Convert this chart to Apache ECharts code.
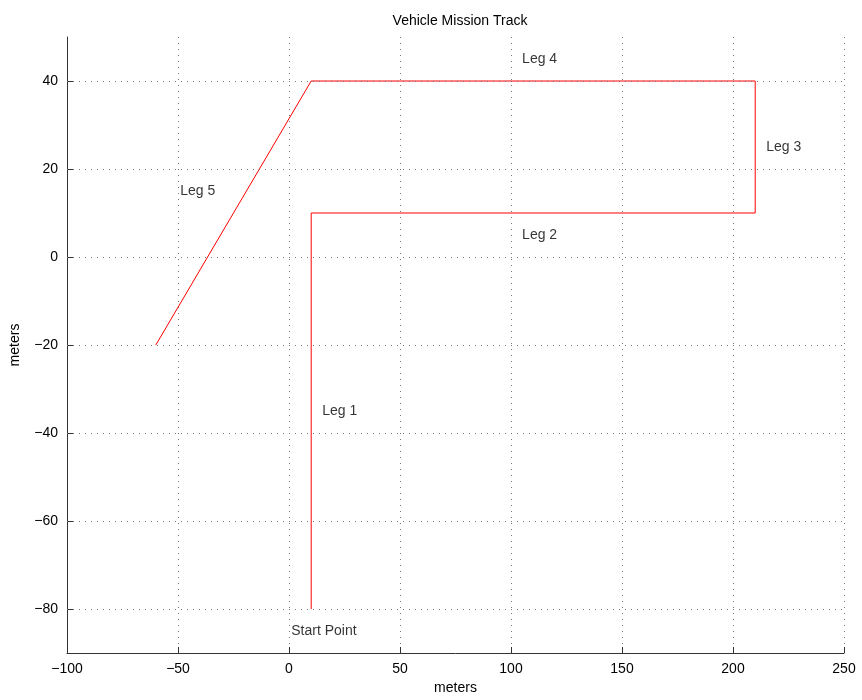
<!DOCTYPE html>
<html><head><meta charset="utf-8">
<script src="https://cdn.jsdelivr.net/npm/echarts@6/dist/echarts.min.js"></script>
<style>html,body{margin:0;padding:0;background:#fff}#c{width:862px;height:700px}</style>
</head><body><div id="c"></div>
<script>
const trackX = [10, 10, 210, 210, 10, -60];
const trackY = [-80, 10, 10, 40, 40, -20];
const labelText = ['Leg 1', 'Leg 2', 'Leg 3', 'Leg 4', 'Leg 5', 'Start Point'];
const labelX = [15, 105, 215, 105, -49, 1];
const labelY = [-35, 5, 25, 45, 15, -85];
const xTicks = [-100, -50, 0, 50, 100, 150, 200, 250];
const yTicks = [-80, -60, -40, -20, 0, 20, 40];

const font = 'Liberation Sans, Arial, Helvetica, sans-serif';
const fmt = v => (v < 0 ? '\u2212' + Math.abs(v) : String(v));
const chart = echarts.init(document.getElementById('c'));
chart.setOption({
  animation: false,
  backgroundColor: '#fff',
  title: { text: 'Vehicle Mission Track', left: 455, textAlign: 'center', top: 9,
    textStyle: { fontFamily: font, fontSize: 14, fontWeight: 'normal', color: '#000' } },
  grid: { left: 64, right: 18, top: 37, bottom: 46 },
  xAxis: {
    type: 'value', min: -100, max: 250, interval: 50,
    name: 'meters', nameLocation: 'middle', nameGap: 28,
    nameTextStyle: { fontFamily: font, fontSize: 14, color: '#000' },
    axisLine: { show: true, onZero: false, lineStyle: { color: '#333', width: 1 } },
    axisTick: { show: true, inside: true, length: 6, lineStyle: { color: '#333' } },
    axisLabel: { fontFamily: font, fontSize: 14, color: '#000', margin: 9, formatter: fmt },
    splitLine: { show: true, lineStyle: { type: [1, 5], color: '#777', width: 1 } }
  },
  yAxis: {
    type: 'value', min: -90, max: 50,
    name: 'meters', nameLocation: 'middle', nameGap: 45, nameRotate: 90,
    nameTextStyle: { fontFamily: font, fontSize: 14, color: '#000' },
    axisLine: { show: true, onZero: false, lineStyle: { color: '#333', width: 1 } },
    axisTick: { show: true, inside: true, length: 6, customValues: yTicks, lineStyle: { color: '#333' } },
    axisLabel: { fontFamily: font, fontSize: 14, color: '#000', margin: 9, customValues: yTicks, formatter: fmt },
    splitLine: { show: false }
  },
  series: [
    {
      type: 'line', data: trackX.map((x, i) => [x, trackY[i]]),
      symbol: 'none', lineStyle: { color: '#ff0000', width: 1 }, z: 3,
      markLine: {
        silent: true, symbol: 'none', label: { show: false },
        lineStyle: { type: [1, 5], color: '#777', width: 1 },
        data: yTicks.map(v => ({ yAxis: v }))
      }
    },
    {
      type: 'scatter', symbolSize: 0, silent: true,
      data: labelX.map((x, i) => ({ value: [x, labelY[i]], name: labelText[i] })),
      label: { show: true, position: 'right', distance: 0, formatter: p => p.name,
        fontFamily: font, fontSize: 14, color: '#000' }
    }
  ]
});
</script></body></html>
